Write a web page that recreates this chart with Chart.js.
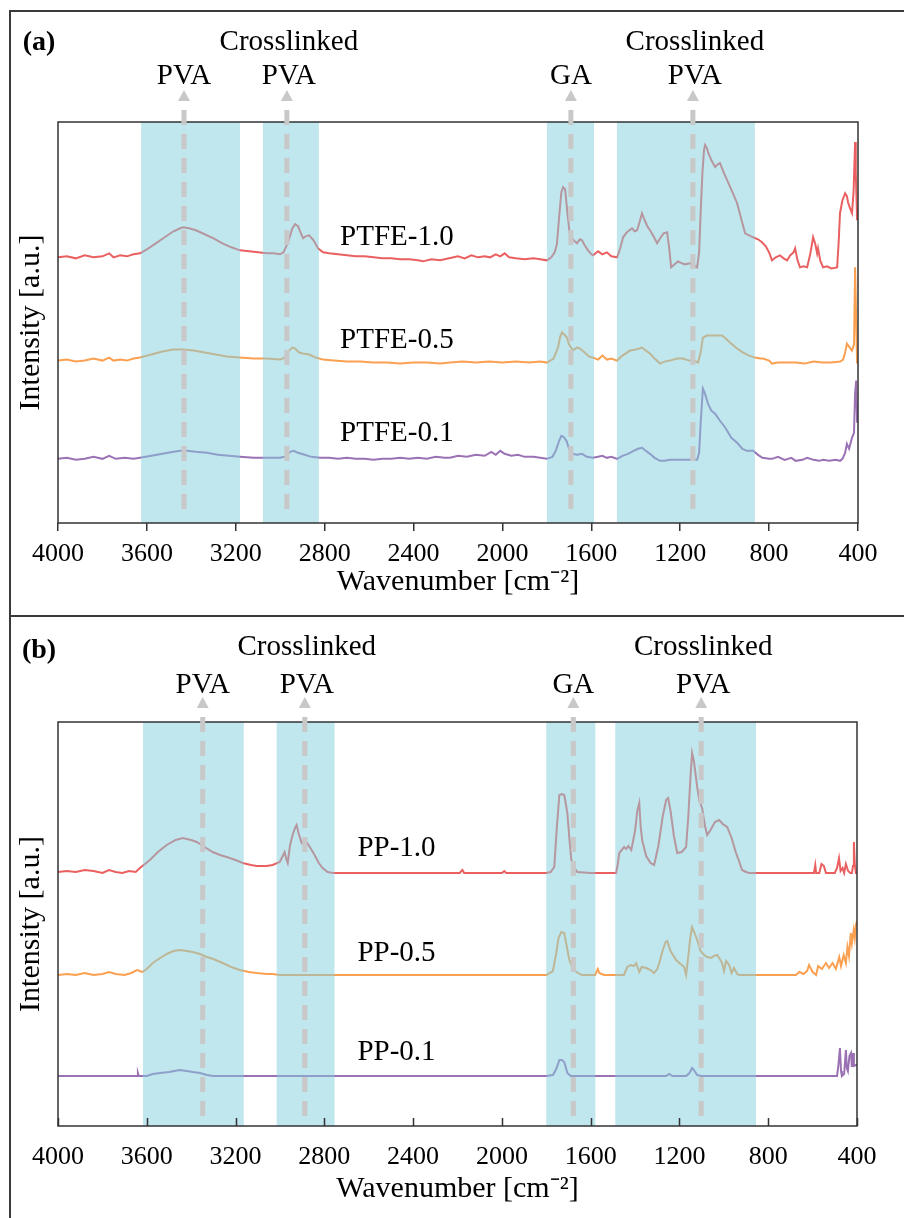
<!DOCTYPE html>
<html>
<head>
<meta charset="utf-8">
<script src="https://cdn.jsdelivr.net/npm/chart.js@4.4.1/dist/chart.umd.min.js"></script>
<style>
  body { margin: 0; background: #fff; width: 904px; height: 1218px; overflow: hidden; position: relative; }
  .frame { position: absolute; left: 9px; top: 10px; width: 1000px; height: 1300px; border: 2px solid #3a3a3a; }
  .sep { position: absolute; left: 9px; top: 615px; width: 1000px; height: 2px; background: #3a3a3a; }
  canvas { position: absolute; left: 0; }
  #chartA { top: 0; }
  #chartB { top: 616px; }
</style>
</head>
<body>
<div class="frame"></div>
<div class="sep"></div>
<canvas id="chartA" width="904" height="616"></canvas>
<canvas id="chartB" width="904" height="602"></canvas>
<script>
// ---- panel (a): PTFE membranes ----
const ptfe10Wn = [4000,3960,3920,3880,3840,3800,3770,3750,3720,3690,3660,3631,3600,3560,3520,3480,3450,3437,3410,3380,3340,3300,3260,3220,3181,3140,3100,3060,3030,3001,2985,2965,2945,2933,2920,2905,2897,2885,2870,2850,2830,2807,2780,2740,2700,2660,2620,2580,2540,2500,2460,2420,2380,2357,2320,2280,2240,2200,2170,2140,2110,2080,2056,2030,2010,1990,1970,1940,1900,1860,1830,1800,1780,1765,1755,1745,1735,1727,1718,1708,1698,1687,1675,1664,1652,1642,1630,1615,1600,1592,1570,1550,1530,1510,1484,1470,1457,1440,1417,1405,1394,1383,1372,1360,1348,1336,1320,1304,1290,1275,1259,1250,1241,1225,1210,1201,1180,1156,1140,1124,1115,1108,1100,1093,1088,1080,1075,1060,1043,1030,1021,1005,989,965,944,925,908,890,872,850,832,815,800,787,770,751,735,719,705,690,683,672,661,645,629,615,602,592,584,580,570,557,540,520,494,487,481,470,458,450,445,436,427,420,413,410,404,400];
const ptfe10 = [265,266,264,267,265,266,269,265,267,266,268,269,273,279,285,291,294,295,294,292,288,284,279,275,272,271,270,269,269,268,270,280,294,298,296,288,284,286,287,282,274,270,269,268,267,266,266,265,264,264,263,263,262,261,263,262,264,266,264,267,265,266,265,268,266,269,265,264,263,264,263,262,265,270,278,305,330,335,333,310,290,284,281,279,283,282,277,272,268,267,271,268,270,266,265,274,285,290,294,291,292,300,309,302,296,292,286,279,284,289,290,275,255,258,261,260,258,259,257,255,270,310,350,372,377,374,370,362,355,358,359,350,342,330,319,303,289,287,285,283,280,276,270,262,265,267,264,262,267,270,274,262,255,256,255,268,285,278,269,274,262,255,256,254,255,280,309,322,329,326,320,314,309,330,380,350,302,315];

const ptfe05Wn = [4000,3960,3920,3880,3840,3800,3770,3750,3720,3690,3660,3631,3580,3530,3480,3437,3390,3340,3290,3240,3181,3120,3060,3001,2980,2960,2945,2933,2915,2897,2870,2840,2807,2760,2700,2640,2580,2520,2460,2400,2340,2280,2236,2180,2120,2060,2000,1940,1880,1830,1800,1770,1750,1740,1732,1722,1710,1700,1683,1665,1651,1630,1610,1592,1570,1550,1530,1510,1484,1460,1440,1426,1400,1385,1372,1355,1336,1315,1291,1270,1246,1215,1188,1160,1140,1120,1108,1098,1080,1057,1035,1012,995,976,950,917,890,864,840,828,800,787,760,720,680,640,600,560,520,480,467,458,450,440,427,418,413,408,404,400];
const ptfe05 = [162,163,161,162,164,162,165,162,163,162,164,165,168,171,173,173,172,170,168,166,165,164,164,163,165,172,175,174,170,169,168,165,163,162,161,161,160,160,159,160,160,159,160,161,160,161,160,161,160,161,160,164,175,186,190,188,185,178,172,175,174,170,166,165,163,167,163,164,162,167,170,172,173,174,175,172,169,164,159,161,162,164,164,162,162,160,170,185,187,187,187,187,184,180,175,170,167,165,164,164,162,159,160,160,160,159,161,160,160,161,163,170,179,176,172,178,255,200,159,175];

const ptfe01Wn = [4000,3960,3920,3880,3840,3800,3770,3740,3700,3660,3631,3580,3530,3480,3450,3420,3380,3330,3280,3230,3181,3120,3060,3001,2980,2955,2940,2920,2890,2860,2820,2780,2740,2700,2660,2620,2580,2540,2500,2460,2420,2380,2340,2300,2260,2236,2200,2160,2120,2080,2050,2030,2010,1990,1960,1930,1900,1860,1830,1800,1775,1760,1745,1735,1725,1712,1700,1687,1664,1642,1620,1592,1570,1550,1530,1510,1484,1460,1435,1410,1390,1372,1355,1336,1315,1291,1270,1246,1215,1180,1150,1124,1115,1108,1098,1090,1075,1060,1043,1021,1000,989,970,944,920,900,872,850,830,800,787,760,730,700,680,650,629,600,575,557,530,500,481,470,458,450,440,427,418,413,408,404,400];
const ptfe01 = [64,65,63,64,66,64,67,64,65,64,65,67,69,71,72,72,71,70,68,67,66,65,65,65,66,71,72,70,68,66,65,65,64,65,64,64,63,64,64,65,64,65,64,66,65,65,67,66,68,67,71,68,72,69,67,68,66,66,65,64,66,72,82,87,86,82,74,69,68,69,66,65,66,67,65,66,64,67,69,72,74,75,72,69,65,62,62,63,63,63,63,63,70,100,134,130,119,112,109,102,96,92,85,80,74,72,72,68,65,64,64,66,63,65,62,63,65,63,62,63,62,63,62,64,70,79,74,85,90,130,142,100,119];

// ---- panel (b): PP membranes ----
const pp10Wn = [4000,3960,3920,3880,3840,3800,3770,3740,3710,3680,3650,3631,3586,3550,3510,3470,3438,3400,3375,3340,3303,3270,3240,3200,3168,3130,3105,3060,3033,3001,2985,2979,2970,2965,2955,2943,2932,2925,2915,2902,2890,2880,2860,2844,2825,2808,2785,2763,2700,2600,2500,2400,2300,2220,2190,2178,2170,2100,2000,1989,1980,1900,1800,1780,1764,1752,1741,1730,1719,1712,1705,1695,1687,1675,1660,1600,1550,1485,1478,1471,1460,1449,1440,1430,1417,1400,1390,1381,1375,1368,1350,1330,1314,1295,1275,1260,1251,1240,1225,1210,1190,1170,1160,1150,1143,1135,1120,1110,1098,1085,1075,1060,1040,1021,1005,985,965,945,930,918,900,886,850,800,700,600,594,588,584,570,560,549,540,520,500,490,481,474,465,458,450,440,430,423,418,414,410,405,400];
const pp10 = [254,255,254,256,255,253,256,254,253,255,254,258,266,274,281,286,288,286,284,279,274,271,269,266,263,261,260,260,261,264,271,274,266,263,280,291,298,301,292,283,285,284,277,271,263,258,254,253,253,253,253,253,253,253,253,256,253,253,253,255,253,253,253,254,259,300,331,332,331,322,313,285,266,258,254,253,253,253,262,273,276,279,277,280,276,295,315,323,300,286,270,263,261,280,310,326,328,315,290,273,274,279,310,350,373,365,339,325,318,300,291,296,304,306,302,299,288,273,264,256,254,253,253,253,253,253,253,261,253,253,262,260,253,253,253,258,268,255,258,253,262,255,253,253,260,284,262,253,253];

const pp05Wn = [4000,3960,3920,3880,3840,3800,3770,3740,3700,3670,3644,3620,3600,3573,3540,3510,3480,3451,3420,3393,3360,3330,3300,3258,3220,3181,3140,3105,3060,3033,3000,2900,2800,2700,2600,2500,2400,2300,2200,2100,2000,1900,1800,1770,1755,1745,1732,1719,1708,1696,1680,1664,1640,1600,1580,1568,1561,1540,1500,1450,1435,1420,1405,1395,1381,1370,1350,1330,1314,1300,1291,1275,1262,1255,1240,1215,1195,1179,1170,1160,1150,1143,1132,1120,1105,1089,1075,1057,1045,1030,1018,1008,999,990,976,965,954,940,931,880,800,700,675,660,640,625,616,600,584,575,558,540,526,510,495,480,472,460,450,443,436,428,423,415,410,405,400];
const pp05 = [151,152,151,153,151,152,154,152,151,153,156,154,157,163,168,172,175,176,175,174,172,169,167,163,159,156,154,153,152,152,151,151,151,151,151,151,151,151,151,151,151,151,151,155,173,188,194,193,180,166,157,154,151,151,151,157,153,151,151,151,159,161,160,163,154,159,158,156,153,157,163,176,184,185,175,166,162,159,151,170,190,199,193,186,175,171,169,168,170,171,167,163,155,165,161,153,158,152,151,151,151,151,151,154,152,155,161,154,151,160,157,163,158,163,157,169,160,171,163,179,170,193,183,196,188,201,205];

const pp01Wn = [4000,3800,3700,3644,3640,3636,3600,3573,3540,3500,3451,3420,3393,3360,3330,3300,3200,3000,2800,2600,2400,2200,2000,1800,1770,1755,1741,1730,1719,1705,1690,1600,1400,1260,1246,1232,1170,1155,1143,1135,1120,1100,900,700,500,490,484,477,472,468,458,450,446,441,434,427,423,418,414,405,400];
const pp01 = [50,50,50,50,53,50,50,52,53,54,56,55,54,53,51,50,50,50,50,50,50,50,50,50,51,57,66,66,64,53,50,50,50,50,52,50,50,53,58,56,51,50,50,50,50,50,60,78,55,50,52,76,58,55,70,73,59,73,60,61,61];

// shaded regions [from, to] and marker wavenumbers
const bandsA = [[3626, 3181], [3078, 2826], [1800, 1588], [1485, 864]];
const bandsB = [[3617, 3163], [3015, 2754], [1800, 1579], [1489, 855]];
const markersA = [3433, 2970, 1692, 1143];
const markersB = [3348, 2888, 1678, 1102];
const markerText = [['PVA'], ['Crosslinked', 'PVA'], ['GA'], ['Crosslinked', 'PVA']];
const xTicks = [4000, 3600, 3200, 2800, 2400, 2000, 1600, 1200, 800, 400];

const RED = 'rgb(234,96,96)', ORANGE = 'rgb(250,160,80)', PURPLE = 'rgb(155,114,180)';
const SERIF = "'Liberation Serif', 'Times New Roman', serif";
Chart.defaults.font.family = SERIF;
Chart.defaults.color = '#000';

const overlays = {
  id: 'overlays',
  afterDraw(chart, args, o) {
    const { ctx, chartArea: a, scales: { x, y } } = chart;
    ctx.save();
    // blue bands laid over the spectra
    ctx.fillStyle = 'rgba(130,205,222,0.5)';
    o.bands.forEach(([b0, b1]) => {
      const x0 = x.getPixelForValue(b0), x1 = x.getPixelForValue(b1);
      ctx.fillRect(Math.min(x0, x1), a.top, Math.abs(x1 - x0), a.bottom - a.top);
    });
    // plot box
    ctx.strokeStyle = '#333';
    ctx.lineWidth = 1.5;
    ctx.strokeRect(a.left, a.top, a.right - a.left, a.bottom - a.top);
    // inward tick marks (panel b)
    if (o.innerTicks) {
      ctx.beginPath();
      x.ticks.forEach(t => {
        const px = Math.round(x.getPixelForValue(t.value)) + 0.5;
        ctx.moveTo(px, a.bottom);
        ctx.lineTo(px, a.bottom - 8);
      });
      ctx.stroke();
    }
    // dashed markers with arrow heads
    ctx.strokeStyle = '#c8c8c8';
    ctx.fillStyle = '#c8c8c8';
    ctx.lineWidth = 5;
    o.markers.forEach(m => {
      const px = x.getPixelForValue(m);
      ctx.beginPath();
      ctx.moveTo(px - 6, o.arrowY + 11);
      ctx.lineTo(px, o.arrowY);
      ctx.lineTo(px + 6, o.arrowY + 11);
      ctx.closePath();
      ctx.fill();
      ctx.setLineDash([15, 9]);
      ctx.lineDashOffset = 15;
      ctx.beginPath();
      ctx.moveTo(px, o.arrowY + 11);
      ctx.lineTo(px, a.bottom - 5);
      ctx.stroke();
      ctx.setLineDash([]);
    });
    // texts
    ctx.fillStyle = '#000';
    ctx.textAlign = 'center';
    ctx.textBaseline = 'middle';
    ctx.font = '29px ' + SERIF;
    o.markers.forEach((m, i) => {
      const px = x.getPixelForValue(m);
      const lines = markerText[i];
      if (lines.length === 2) {
        ctx.fillText(lines[0], px + 2, o.row1);
        ctx.fillText(lines[1], px + 2, o.row2);
      } else {
        ctx.fillText(lines[0], px, o.row2);
      }
    });
    o.seriesLabels.forEach(s => {
      ctx.fillText(s.text, x.getPixelForValue(s.x), y.getPixelForValue(s.y));
    });
    ctx.font = 'bold 28px ' + SERIF;
    ctx.fillText(o.tag, 39, o.tagY);
    ctx.restore();
  }
};

function ds(label, xs, ys, color) {
  return {
    label,
    data: xs.map((v, i) => ({ x: v, y: ys[i] })),
    borderColor: color,
    borderWidth: 2,
    pointRadius: 0,
    tension: 0
  };
}

function makeChart(id, datasets, cfg) {
  return new Chart(document.getElementById(id), {
    type: 'line',
    data: { datasets },
    options: {
      responsive: false,
      animation: false,
      layout: { padding: { top: cfg.top, right: cfg.right, bottom: 0, left: 0 } },
      scales: {
        x: {
          type: 'linear', reverse: true, min: 400, max: 4000,
          afterBuildTicks: s => { s.ticks = xTicks.map(v => ({ value: v })); },
          ticks: { callback: v => String(v), font: { size: 26 }, color: '#000', padding: cfg.tickPad, maxRotation: 0, autoSkip: false },
          grid: { display: true, drawOnChartArea: false, drawTicks: cfg.outerTicks, tickLength: 8, color: '#333', lineWidth: 1.5 },
          border: { display: false },
          title: { display: true, text: 'Wavenumber [cm\u207B\u00B2]', font: { size: 30 }, color: '#000', padding: { top: 0, bottom: cfg.titlePad } },
          afterFit: s => { s.height = cfg.xHeight; }
        },
        y: {
          min: 0, max: cfg.yMax,
          ticks: { display: false },
          grid: { display: false },
          border: { display: false },
          title: { display: true, text: 'Intensity [a.u.]', font: { size: 30 }, color: '#000', padding: { top: 13, bottom: 0 } },
          afterFit: s => { s.width = 58; }
        }
      },
      plugins: {
        legend: { display: false },
        tooltip: { enabled: false },
        overlays: cfg.overlays
      }
    },
    plugins: [overlays]
  });
}

makeChart('chartA', [
  ds('PTFE-1.0', ptfe10Wn, ptfe10, RED),
  ds('PTFE-0.5', ptfe05Wn, ptfe05, ORANGE),
  ds('PTFE-0.1', ptfe01Wn, ptfe01, PURPLE)
], {
  top: 122, right: 46, yMax: 400, xHeight: 93, outerTicks: true, tickPad: 8, titlePad: 16,
  overlays: {
    bands: bandsA, markers: markersA, arrowY: 90, row1: 42, row2: 76, tag: '(a)', tagY: 43, innerTicks: false,
    seriesLabels: [
      { text: 'PTFE-1.0', x: 2475, y: 285 },
      { text: 'PTFE-0.5', x: 2475, y: 182 },
      { text: 'PTFE-0.1', x: 2475, y: 89 }
    ]
  }
});

makeChart('chartB', [
  ds('PP-1.0', pp10Wn, pp10, RED),
  ds('PP-0.5', pp05Wn, pp05, ORANGE),
  ds('PP-0.1', pp01Wn, pp01, PURPLE)
], {
  top: 106, right: 47, yMax: 404, xHeight: 92, outerTicks: false, tickPad: 16, titlePad: 11,
  overlays: {
    bands: bandsB, markers: markersB, arrowY: 81, row1: 31, row2: 69, tag: '(b)', tagY: 35, innerTicks: true,
    seriesLabels: [
      { text: 'PP-1.0', x: 2475, y: 278 },
      { text: 'PP-0.5', x: 2475, y: 173 },
      { text: 'PP-0.1', x: 2475, y: 74 }
    ]
  }
});
</script>
</body>
</html>
